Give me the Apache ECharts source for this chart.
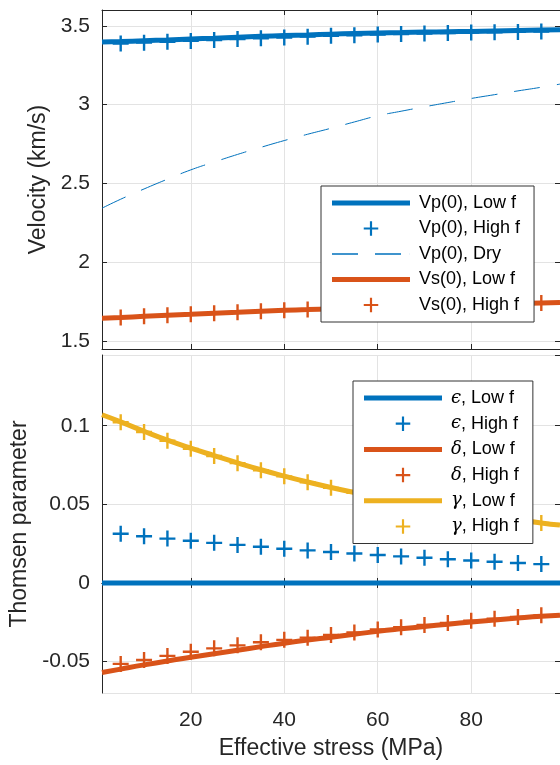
<!DOCTYPE html>
<html>
<head>
<meta charset="utf-8">
<script src="https://cdn.jsdelivr.net/npm/echarts@6/dist/echarts.min.js"></script>
<style>
    html, body { margin: 0; padding: 0; background: #fff; }
    #chart { width: 560px; height: 765px; }
</style>
</head>
<body>
<div id="chart"></div>
<script>
// effective stress (MPa): dense points for the low-f curves, markers every 5 MPa for high f
var stressLine = [1, 5, 10, 15, 20, 25, 30, 35, 40, 45, 50, 55, 60, 65, 70, 75, 80, 85, 90, 95, 99];
var stressHigh = [5, 10, 15, 20, 25, 30, 35, 40, 45, 50, 55, 60, 65, 70, 75, 80, 85, 90, 95];

// top panel: velocities (km/s)
var vpLow  = [3.397, 3.400, 3.405, 3.410, 3.416, 3.421, 3.427, 3.433, 3.438, 3.442, 3.447, 3.451, 3.454, 3.457, 3.460, 3.462, 3.464, 3.467, 3.470, 3.473, 3.475];
var vpHigh = [3.388, 3.393, 3.398, 3.404, 3.410, 3.416, 3.421, 3.426, 3.431, 3.436, 3.440, 3.444, 3.448, 3.451, 3.454, 3.457, 3.459, 3.461, 3.463];
var vpDry  = [2.343, 2.400, 2.465, 2.527, 2.586, 2.636, 2.684, 2.729, 2.772, 2.812, 2.850, 2.890, 2.929, 2.958, 2.986, 3.013, 3.039, 3.063, 3.087, 3.110, 3.130];
var vsLow  = [1.645, 1.650, 1.657, 1.664, 1.670, 1.677, 1.683, 1.689, 1.695, 1.700, 1.705, 1.710, 1.715, 1.719, 1.723, 1.727, 1.731, 1.735, 1.738, 1.742, 1.745];
var vsHigh = [1.650, 1.657, 1.664, 1.670, 1.677, 1.683, 1.689, 1.695, 1.700, 1.705, 1.710, 1.715, 1.719, 1.723, 1.727, 1.731, 1.735, 1.738, 1.742];

// bottom panel: Thomsen parameters
var epsLow    = [0, 0, 0, 0, 0, 0, 0, 0, 0, 0, 0, 0, 0, 0, 0, 0, 0, 0, 0, 0, 0];
var epsHigh   = [0.0313, 0.0297, 0.0282, 0.0268, 0.0255, 0.0242, 0.0230, 0.0218, 0.0207, 0.0197, 0.0187, 0.0178, 0.0169, 0.0160, 0.0151, 0.0143, 0.0135, 0.0127, 0.0120];
var deltaLow  = [-0.0570, -0.0548, -0.0521, -0.0496, -0.0473, -0.0450, -0.0428, -0.0405, -0.0383, -0.0363, -0.0345, -0.0326, -0.0308, -0.0292, -0.0277, -0.0262, -0.0248, -0.0235, -0.0223, -0.0212, -0.0205];
var deltaHigh = [-0.0515, -0.0490, -0.0464, -0.0438, -0.0416, -0.0397, -0.0377, -0.0362, -0.0348, -0.0331, -0.0315, -0.0296, -0.0282, -0.0267, -0.0254, -0.0240, -0.0228, -0.0217, -0.0206];
var gammaLow  = [0.1070, 0.1025, 0.0965, 0.0908, 0.0857, 0.0810, 0.0764, 0.0720, 0.0680, 0.0642, 0.0607, 0.0575, 0.0545, 0.0517, 0.0492, 0.0468, 0.0445, 0.0423, 0.0402, 0.0382, 0.0368];
var gammaHigh = [0.1022, 0.0960, 0.0905, 0.0853, 0.0808, 0.0762, 0.0717, 0.0678, 0.0640, 0.0605, 0.0573, 0.0543, 0.0515, 0.0490, 0.0467, 0.0445, 0.0423, 0.0402, 0.0381];

var topNames = ['Vp(0), Low f', 'Vp(0), High f', 'Vp(0), Dry', 'Vs(0), Low f', 'Vs(0), High f'];
var botNames = ['\u03f5, Low f', '\u03f5, High f', '\u03b4, Low f', '\u03b4, High f', '\u03b3, Low f', '\u03b3, High f'];

var BLUE = '#0072BD', RED = '#D95319', YELLOW = '#EDB120';
var INK = '#262626';
var FONT = 'Liberation Sans, Arial, Helvetica, sans-serif';
var CROSS = 'path://M6.8,0H9.2V6.8H16V9.2H9.2V16H6.8V9.2H0V6.8H6.8Z';
var BAR = 'path://M0,0H78V5H0Z';
var DASH = 'path://M0,0H26V1.5H0Z M43,0H69V1.5H43Z M77.9,0H78V1.5H77.9Z';

function pairs(xs, ys) {
    return xs.map(function (x, i) { return [x, ys[i]]; });
}

function lowLine(name, ys, color, xi, yi) {
    return {
        name: name, type: 'line', xAxisIndex: xi, yAxisIndex: yi,
        data: pairs(stressLine, ys), smooth: true, symbol: 'none',
        lineStyle: { color: color, width: 5 }, itemStyle: { color: color },
        emphasis: { disabled: true }
    };
}

function highMarks(name, ys, color, xi, yi) {
    return {
        name: name, type: 'scatter', xAxisIndex: xi, yAxisIndex: yi,
        data: pairs(stressHigh, ys), symbol: CROSS, symbolSize: 16,
        itemStyle: { color: color, opacity: 1 },
        emphasis: { disabled: true }
    };
}

// MATLAB-style boxed axes: ticks point inward on all four sides
function xAxis(grid, pos, withLabels) {
    return {
        type: 'value', gridIndex: grid, position: pos, min: 1, max: 99,
        axisLine: { show: true, lineStyle: { color: INK, width: 1 } },
        axisTick: { show: true, inside: true, length: 5, lineStyle: { color: INK } },
        splitLine: { show: pos === 'bottom', lineStyle: { color: '#e3e3e3', width: 1 } },
        axisLabel: { show: withLabels, showMinLabel: false, showMaxLabel: false, color: INK, fontSize: 21, fontFamily: FONT, margin: 17 },
        name: withLabels ? 'Effective stress (MPa)' : '',
        nameLocation: 'middle', nameGap: 44,
        nameTextStyle: { color: INK, fontSize: 23, fontFamily: FONT }
    };
}

function yAxis(grid, pos, min, max, title, gap) {
    var left = pos === 'left';
    return {
        type: 'value', gridIndex: grid, position: pos, min: min, max: max, splitNumber: 5,
        axisLine: { show: true, lineStyle: { color: INK, width: 1 } },
        axisTick: { show: true, inside: true, length: 5, lineStyle: { color: INK } },
        splitLine: { show: left, lineStyle: { color: '#e3e3e3', width: 1 } },
        axisLabel: { show: left, showMinLabel: false, showMaxLabel: false, color: INK, fontSize: 21, fontFamily: FONT, margin: 12 },
        name: left ? title : '',
        nameLocation: 'middle', nameGap: gap,
        nameTextStyle: { color: INK, fontSize: 23, fontFamily: FONT }
    };
}

function legendBox(names, icons, left, top, gap) {
    return {
        orient: 'vertical', left: left, top: top,
        data: names.map(function (n, i) { return { name: n, icon: icons[i] }; }),
        itemWidth: 78, itemHeight: 14.5, itemGap: gap,
        padding: [7, 14, 7, 11],
        backgroundColor: '#fff', borderColor: '#333', borderWidth: 1, borderRadius: 0,
        selectedMode: false,
        formatter: function (name) {
            var c = name.charAt(0);
            if (c === 'V') return name;
            return '{g|' + c + '}' + name.slice(1);
        },
        textStyle: {
            color: '#000', fontSize: 18, fontFamily: FONT, lineHeight: 20, padding: [0, 0, 0, 4],
            rich: { g: { fontFamily: 'DejaVu Serif', fontStyle: 'italic', fontSize: 18, color: '#000' } }
        }
    };
}

var chart = echarts.init(document.getElementById('chart'), null, { renderer: 'canvas' });

var option = {
    animation: false,
    backgroundColor: '#fff',
    grid: [
        { left: 102, top: 10, right: 0, height: 339 },
        { left: 102, top: 355, right: 0, height: 338 }
    ],
    xAxis: [
        xAxis(0, 'bottom', false),
        xAxis(0, 'top', false),
        xAxis(1, 'bottom', true),
        xAxis(1, 'top', false)
    ],
    yAxis: [
        yAxis(0, 'left', 1.45, 3.6, 'Velocity (km/s)', 49),
        yAxis(0, 'right', 1.45, 3.6, '', 0),
        yAxis(1, 'left', -0.07, 0.145, 'Thomsen parameter', 68),
        yAxis(1, 'right', -0.07, 0.145, '', 0)
    ],
    legend: [
        legendBox(topNames, [BAR, CROSS, DASH, BAR, CROSS], 321, 186, 5.5),
        legendBox(botNames, [BAR, CROSS, BAR, CROSS, BAR, CROSS], 353, 381, 5.7)
    ],
    series: [
        lowLine(topNames[0], vpLow, BLUE, 0, 0),
        highMarks(topNames[1], vpHigh, BLUE, 0, 0),
        {
            name: topNames[2], type: 'line', xAxisIndex: 0, yAxisIndex: 0,
            data: pairs(stressLine, vpDry), smooth: true, symbol: 'none',
            lineStyle: { color: BLUE, width: 1, type: [26, 17] }, itemStyle: { color: BLUE },
            emphasis: { disabled: true }
        },
        lowLine(topNames[3], vsLow, RED, 0, 0),
        highMarks(topNames[4], vsHigh, RED, 0, 0),

        lowLine(botNames[0], epsLow, BLUE, 2, 2),
        highMarks(botNames[1], epsHigh, BLUE, 2, 2),
        lowLine(botNames[2], deltaLow, RED, 2, 2),
        highMarks(botNames[3], deltaHigh, RED, 2, 2),
        lowLine(botNames[4], gammaLow, YELLOW, 2, 2),
        highMarks(botNames[5], gammaHigh, YELLOW, 2, 2)
    ]
};

chart.setOption(option);
</script>
</body>
</html>
